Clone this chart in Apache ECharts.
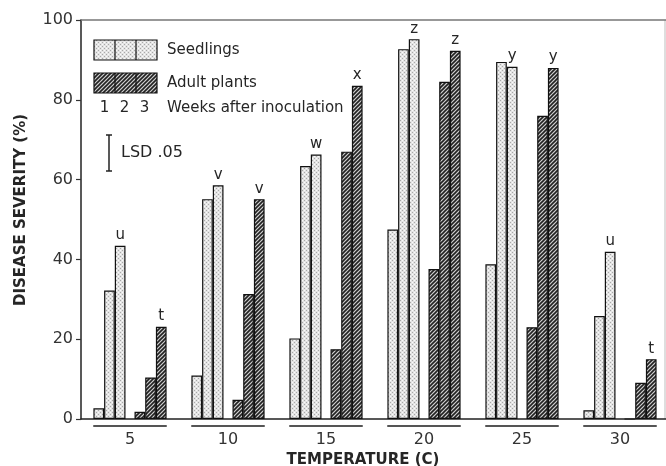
<!DOCTYPE html>
<html><head><meta charset="utf-8">
<script src="https://cdn.jsdelivr.net/npm/echarts@6/dist/echarts.min.js"></script>
<style>html,body{margin:0;padding:0;background:#fff}#c{width:666px;height:466px}</style>
</head><body><div id="c"></div>
<script>
// ---- data ----
const temperatures = ['5', '10', '15', '20', '25', '30'];
const seedlingsWeek1 = [2.7, 10.9, 20.2, 47.5, 38.8, 2.2];
const seedlingsWeek2 = [32.2, 55.1, 63.4, 92.7, 89.5, 25.8];
const seedlingsWeek3 = [43.4, 58.6, 66.3, 95.2, 88.3, 41.9];
const adultWeek1 = [1.8, 4.8, 17.5, 37.6, 23.0, 0];
const adultWeek2 = [10.4, 31.3, 67.0, 84.5, 76.0, 9.1];
const adultWeek3 = [23.1, 55.1, 83.5, 92.3, 88.0, 15.0];
const seedlingLetters = ['u', 'v', 'w', 'z', 'y', 'u'];
const adultLetters = ['t', 'v', 'x', 'z', 'y', 't'];
const yTicks = [0, 20, 40, 60, 80, 100];

// ---- fill patterns ----
function stipple() {
  const c = document.createElement('canvas'); c.width = 4; c.height = 4;
  const g = c.getContext('2d');
  g.fillStyle = '#e3e3e3'; g.fillRect(0, 0, 4, 4);
  g.fillStyle = '#a8a8a8'; g.fillRect(0, 0, 1, 1); g.fillRect(2, 2, 1, 1);
  g.fillStyle = '#fafafa'; g.fillRect(2, 0, 1, 1); g.fillRect(0, 2, 1, 1);
  return { image: c, repeat: 'repeat' };
}
function hatch() {
  const s = 4;
  const c = document.createElement('canvas'); c.width = s; c.height = s;
  const g = c.getContext('2d');
  g.fillStyle = '#d0d0d0'; g.fillRect(0, 0, s, s);
  g.strokeStyle = '#222'; g.lineWidth = 1.6;
  g.beginPath();
  g.moveTo(-1, s + 1); g.lineTo(s + 1, -1);
  g.moveTo(-1, 1); g.lineTo(1, -1);
  g.moveTo(s - 1, s + 1); g.lineTo(s + 1, s - 1);
  g.stroke();
  return { image: c, repeat: 'repeat' };
}
const seedFill = stipple();
const adultFill = hatch();

const FONT = 'DejaVu Sans';
const TXT = '#262626';
const barW = 10.7;

function barSeries(name, data, fill, letters) {
  const s = {
    name, type: 'bar', data, barWidth: barW, barGap: 0,
    itemStyle: { color: fill, borderColor: '#111', borderWidth: 1.2 },
    emphasis: { disabled: true }
  };
  if (letters) {
    s.label = {
      show: true, position: 'top', distance: 3,
      formatter: p => letters[p.dataIndex],
      fontFamily: FONT, fontSize: 15, color: TXT
    };
  }
  return s;
}

const chart = echarts.init(document.getElementById('c'), null, { renderer: 'canvas' });
chart.setOption({
  animation: false,
  backgroundColor: '#fff',
  grid: { left: 81, top: 20, width: 588, height: 399, outerBoundsMode: 'none', containLabel: false },
  xAxis: [{
    type: 'category', data: temperatures,
    axisLine: { lineStyle: { color: '#222', width: 1.5 } },
    axisTick: { show: false },
    axisLabel: { fontFamily: FONT, fontSize: 16, color: '#333', margin: 13 },
    name: 'TEMPERATURE (C)', nameLocation: 'middle', nameGap: 25,
    nameTextStyle: { fontFamily: FONT, fontSize: 15, fontWeight: 'bold', color: TXT, padding: [0, 24, 0, 0] }
  }, {
    type: 'category', data: temperatures, position: 'top',
    axisLine: { lineStyle: { color: '#777', width: 1.5 } },
    axisTick: { show: false }, axisLabel: { show: false }
  }],
  yAxis: {
    type: 'value', min: 0, max: 100, interval: 20,
    axisLine: { show: true, lineStyle: { color: '#222', width: 1.5 } },
    axisTick: { show: true, length: 5, lineStyle: { color: '#333', width: 1.2 } },
    axisLabel: { fontFamily: FONT, fontSize: 16, color: '#333', margin: 8,
      formatter: v => yTicks.includes(v) ? String(v) : '' },
    splitLine: { show: false },
    name: 'DISEASE SEVERITY (%)', nameLocation: 'middle', nameGap: 52, nameRotate: 90,
    nameTextStyle: { fontFamily: FONT, fontSize: 15, fontWeight: 'bold', color: TXT, padding: [0, 0, 0, 19] }
  },
  series: [
    barSeries('Seedlings 1', seedlingsWeek1, seedFill),
    barSeries('Seedlings 2', seedlingsWeek2, seedFill),
    barSeries('Seedlings 3', seedlingsWeek3, seedFill, seedlingLetters),
    { name: 'gap', type: 'bar', data: temperatures.map(() => '-'), barWidth: 9, barGap: 0 },
    barSeries('Adult 1', adultWeek1, adultFill),
    barSeries('Adult 2', adultWeek2, adultFill),
    barSeries('Adult 3', adultWeek3, adultFill, adultLetters),
    {
      type: 'custom', name: 'underline', silent: true,
      data: temperatures.map((t, i) => [i]),
      encode: { x: 0 },
      renderItem: (params, api) => {
        const c = api.coord([api.value(0), 0]);
        const w = api.size([1, 0])[0] * 0.375;
        return { type: 'line', shape: { x1: c[0] - w, y1: c[1] + 7, x2: c[0] + w, y2: c[1] + 7 },
          style: { stroke: '#555', lineWidth: 2 } };
      }
    }
  ],
  graphic: [
    // right frame
    { type: 'line', shape: { x1: 665, y1: 20, x2: 665, y2: 419 }, style: { stroke: '#bdbdbd', lineWidth: 1 } },
    // legend: seedlings box
    { type: 'rect', shape: { x: 94, y: 40, width: 63, height: 20 }, style: { fill: seedFill, stroke: '#111', lineWidth: 1.2 } },
    { type: 'line', shape: { x1: 115, y1: 40, x2: 115, y2: 60 }, style: { stroke: '#111', lineWidth: 1.2 } },
    { type: 'line', shape: { x1: 136, y1: 40, x2: 136, y2: 60 }, style: { stroke: '#111', lineWidth: 1.2 } },
    { type: 'text', x: 167, y: 50, style: { text: 'Seedlings', font: '15px "DejaVu Sans"', fill: TXT, verticalAlign: 'middle' } },
    // legend: adult box
    { type: 'rect', shape: { x: 94, y: 73, width: 63, height: 20 }, style: { fill: adultFill, stroke: '#111', lineWidth: 1.2 } },
    { type: 'line', shape: { x1: 115, y1: 73, x2: 115, y2: 93 }, style: { stroke: '#111', lineWidth: 1.2 } },
    { type: 'line', shape: { x1: 136, y1: 73, x2: 136, y2: 93 }, style: { stroke: '#111', lineWidth: 1.2 } },
    { type: 'text', x: 167, y: 83, style: { text: 'Adult plants', font: '15px "DejaVu Sans"', fill: TXT, verticalAlign: 'middle' } },
    { type: 'text', x: 104.5, y: 108, style: { text: '1', font: '15px "DejaVu Sans"', fill: TXT, align: 'center', verticalAlign: 'middle' } },
    { type: 'text', x: 124.5, y: 108, style: { text: '2', font: '15px "DejaVu Sans"', fill: TXT, align: 'center', verticalAlign: 'middle' } },
    { type: 'text', x: 144.5, y: 108, style: { text: '3', font: '15px "DejaVu Sans"', fill: TXT, align: 'center', verticalAlign: 'middle' } },
    { type: 'text', x: 167, y: 108, style: { text: 'Weeks after inoculation', font: '15px "DejaVu Sans"', fill: TXT, verticalAlign: 'middle' } },
    // LSD bar
    { type: 'line', shape: { x1: 109, y1: 135, x2: 109, y2: 171 }, style: { stroke: '#222', lineWidth: 1.5 } },
    { type: 'line', shape: { x1: 106, y1: 135, x2: 112, y2: 135 }, style: { stroke: '#222', lineWidth: 1.5 } },
    { type: 'line', shape: { x1: 106, y1: 171, x2: 112, y2: 171 }, style: { stroke: '#222', lineWidth: 1.5 } },
    { type: 'text', x: 121, y: 153, style: { text: 'LSD .05', font: '16px "DejaVu Sans"', fill: TXT, verticalAlign: 'middle' } }
  ]
});
</script>
</body></html>
